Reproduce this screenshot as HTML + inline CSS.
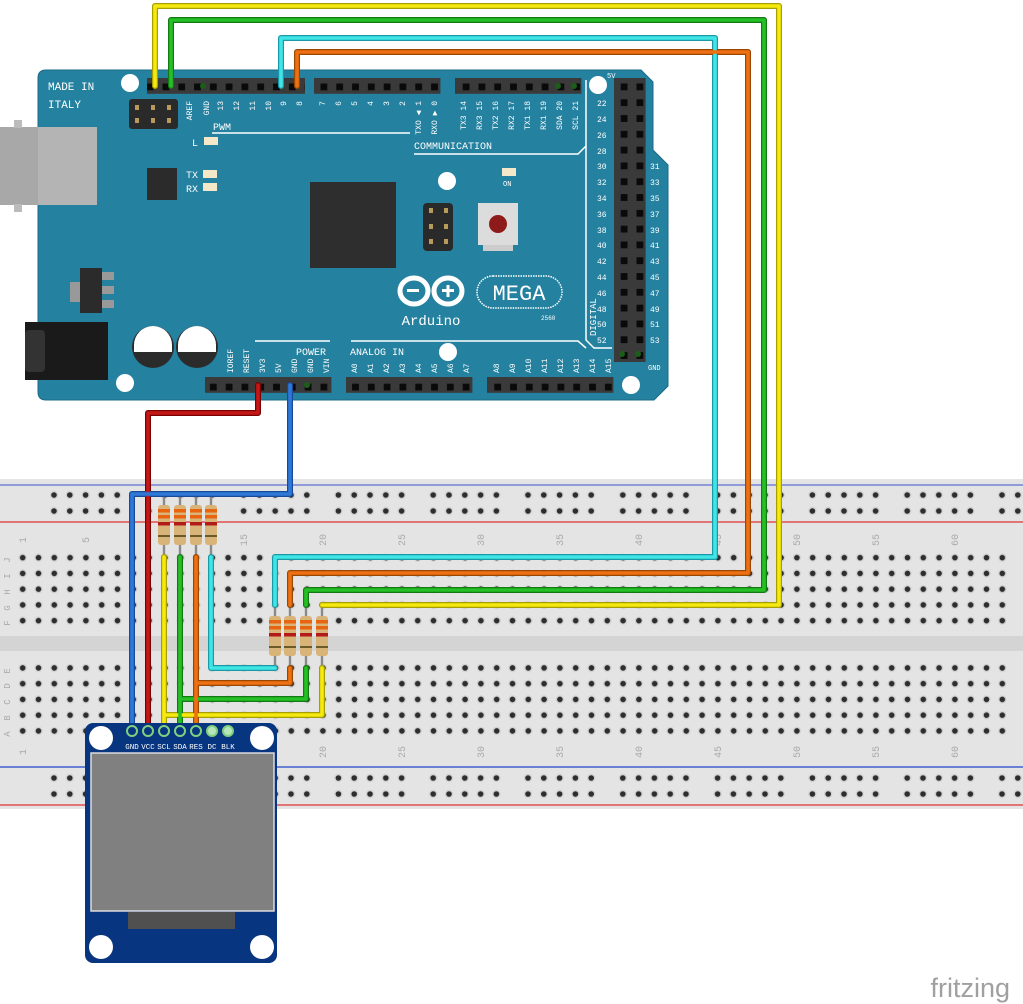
<!DOCTYPE html>
<html><head><meta charset="utf-8"><style>
html,body{margin:0;padding:0;background:#fff;width:1023px;height:1004px;overflow:hidden}
svg{display:block}
text{font-family:"Liberation Mono",monospace}
</style></head><body>
<svg width="1023" height="1004" viewBox="0 0 1023 1004" xmlns="http://www.w3.org/2000/svg">
<defs>
<pattern id="hole" x="14.8" y="549.8" width="15.8" height="15.75" patternUnits="userSpaceOnUse">
<circle cx="7.9" cy="7.9" r="4.2" fill="#d2d2d2"/><circle cx="7.9" cy="7.9" r="2.8" fill="#2e2e2e"/></pattern>
<g id="r5">
<g fill="#d2d2d2"><circle cx="7.9" cy="8" r="4.2"/><circle cx="23.7" cy="8" r="4.2"/><circle cx="39.5" cy="8" r="4.2"/><circle cx="55.3" cy="8" r="4.2"/><circle cx="71.1" cy="8" r="4.2"/></g>
<g fill="#2e2e2e"><circle cx="7.9" cy="8" r="2.8"/><circle cx="23.7" cy="8" r="2.8"/><circle cx="39.5" cy="8" r="2.8"/><circle cx="55.3" cy="8" r="2.8"/><circle cx="71.1" cy="8" r="2.8"/></g>
</g>
<pattern id="rail" x="46.1" y="487" width="94.8" height="16" patternUnits="userSpaceOnUse"><use href="#r5"/></pattern>
<pattern id="rail2" x="46.1" y="770" width="94.8" height="16" patternUnits="userSpaceOnUse"><use href="#r5"/></pattern>
<pattern id="hdr" x="0" y="0" width="15.8" height="15.8" patternUnits="userSpaceOnUse">
<rect width="15.8" height="15.8" fill="#3a3a3a"/><rect x="4.5" y="4.5" width="6.8" height="6.8" fill="#0a0a0a"/></pattern>
<g id="res">
<rect x="-1.2" y="0" width="2.4" height="63" fill="#8a8a8a"/>
<rect x="-6" y="11" width="12" height="40" rx="3" fill="#d9b478"/>
<rect x="-6" y="15" width="12" height="3.5" fill="#e8650f"/>
<rect x="-6" y="21" width="12" height="3.5" fill="#e8650f"/>
<rect x="-6" y="28" width="12" height="3.5" fill="#b31a1a"/>
<rect x="-6" y="41" width="12" height="2" fill="#6b5a2a"/>
</g>
</defs>

<!-- BREADBOARD -->
<rect x="0" y="479" width="1023" height="330" fill="#e4e4e4"/>
<line x1="0" y1="485" x2="1023" y2="485" stroke="#5a6fd0" stroke-width="1.2"/>
<line x1="0" y1="522" x2="1023" y2="522" stroke="#e05050" stroke-width="1.5"/>
<rect x="0" y="636" width="1023" height="15" fill="#d4d4d4"/>
<line x1="0" y1="767" x2="1023" y2="767" stroke="#4060d0" stroke-width="1.5"/>
<line x1="0" y1="805" x2="1023" y2="805" stroke="#e05050" stroke-width="1.5"/>
<rect x="46" y="487" width="977" height="32" fill="url(#rail)"/>
<rect x="46" y="770" width="977" height="32" fill="url(#rail2)"/>
<rect x="14.8" y="549.8" width="995.4" height="78.75" fill="url(#hole)"/>
<rect x="14.8" y="660.1" width="995.4" height="78.75" fill="url(#hole)"/>
<g font-size="9" fill="#aaa" style="font-family:'Liberation Sans',sans-serif" text-anchor="middle">
<text transform="translate(10,560) rotate(-90)">J</text>
<text transform="translate(10,576) rotate(-90)">I</text>
<text transform="translate(10,592) rotate(-90)">H</text>
<text transform="translate(10,608) rotate(-90)">G</text>
<text transform="translate(10,623) rotate(-90)">F</text>
<text transform="translate(10,671) rotate(-90)">E</text>
<text transform="translate(10,686) rotate(-90)">D</text>
<text transform="translate(10,702) rotate(-90)">C</text>
<text transform="translate(10,718) rotate(-90)">B</text>
<text transform="translate(10,734) rotate(-90)">A</text>
</g>
<g font-size="10" fill="#aaa" style="font-family:'Liberation Sans',sans-serif" text-anchor="middle">
<text transform="translate(26,540) rotate(-90)">1</text><text transform="translate(89,540) rotate(-90)">5</text>
<text transform="translate(247,540) rotate(-90)">15</text><text transform="translate(326,540) rotate(-90)">20</text>
<text transform="translate(405,540) rotate(-90)">25</text><text transform="translate(484,540) rotate(-90)">30</text>
<text transform="translate(563,540) rotate(-90)">35</text><text transform="translate(642,540) rotate(-90)">40</text>
<text transform="translate(721,540) rotate(-90)">45</text><text transform="translate(800,540) rotate(-90)">50</text>
<text transform="translate(879,540) rotate(-90)">55</text><text transform="translate(958,540) rotate(-90)">60</text>
<text transform="translate(26,752) rotate(-90)">1</text>
<text transform="translate(326,752) rotate(-90)">20</text>
<text transform="translate(405,752) rotate(-90)">25</text><text transform="translate(484,752) rotate(-90)">30</text>
<text transform="translate(563,752) rotate(-90)">35</text><text transform="translate(642,752) rotate(-90)">40</text>
<text transform="translate(721,752) rotate(-90)">45</text><text transform="translate(800,752) rotate(-90)">50</text>
<text transform="translate(879,752) rotate(-90)">55</text><text transform="translate(958,752) rotate(-90)">60</text>
</g>

<!-- ARDUINO -->
<path d="M46 70 H641 L653 82 V150 L668 165 V386 L654 400 H46 Q38 400 38 392 V78 Q38 70 46 70 Z" fill="#24819f" stroke="#1a6a85" stroke-width="1"/>
<rect x="0" y="127" width="97" height="78" fill="#b4b4b4"/>
<rect x="0" y="127" width="38" height="78" fill="#a8a8a8"/>
<rect x="14" y="120" width="8" height="8" fill="#bbb"/><rect x="14" y="204" width="8" height="8" fill="#bbb"/>
<rect x="25" y="322" width="83" height="58" fill="#1a1a1a"/>
<rect x="25" y="330" width="20" height="42" rx="4" fill="#333"/>
<g fill="#fff"><circle cx="130" cy="83" r="9"/><circle cx="598" cy="85" r="9"/><circle cx="447" cy="181" r="9"/><circle cx="448" cy="352" r="9"/><circle cx="125" cy="383" r="9"/><circle cx="631" cy="385" r="9"/></g>
<rect x="147" y="78" width="158" height="15.8" fill="url(#hdr)"/>
<rect x="314" y="78" width="126.4" height="15.8" fill="url(#hdr)"/>
<rect x="455" y="78" width="126.4" height="15.8" fill="url(#hdr)"/>
<rect x="614" y="78" width="31.6" height="284" fill="url(#hdr)"/>
<rect x="205" y="377" width="126.4" height="15.8" fill="url(#hdr)"/>
<rect x="346" y="377" width="126.4" height="15.8" fill="url(#hdr)"/>
<rect x="487" y="377" width="126.4" height="15.8" fill="url(#hdr)"/>
<g fill="#1a5e1a"><circle cx="203" cy="86" r="3"/><circle cx="558" cy="86" r="3"/><circle cx="574" cy="86" r="3"/><circle cx="622" cy="354" r="3"/><circle cx="638" cy="354" r="3"/><circle cx="307" cy="385" r="3"/></g>
<rect x="129" y="99" width="49" height="30" rx="3" fill="#2a2a2a"/>
<g fill="#b89a5a"><rect x="135" y="105" width="4" height="5"/><rect x="151" y="105" width="4" height="5"/><rect x="167" y="105" width="4" height="5"/><rect x="135" y="118" width="4" height="5"/><rect x="151" y="118" width="4" height="5"/><rect x="167" y="118" width="4" height="5"/></g>
<rect x="147" y="168" width="30" height="32" fill="#2b2b2b"/>
<rect x="310" y="182" width="86" height="86" fill="#2e2e2e"/>
<rect x="423" y="203" width="30" height="48" rx="4" fill="#2a2a2a"/>
<g fill="#b89a5a"><rect x="429" y="208" width="4" height="5"/><rect x="444" y="208" width="4" height="5"/><rect x="429" y="224" width="4" height="5"/><rect x="444" y="224" width="4" height="5"/><rect x="429" y="239" width="4" height="5"/><rect x="444" y="239" width="4" height="5"/></g>
<rect x="478" y="203" width="40" height="42" fill="#dcdcdc"/><rect x="483" y="245" width="30" height="6" fill="#ccc"/>
<circle cx="498" cy="224" r="9" fill="#8e1a1a"/>
<rect x="502" y="168" width="14" height="8" fill="#f4e8c8"/>
<g fill="#f4e8c8"><rect x="204" y="137" width="14" height="8"/><rect x="203" y="170" width="14" height="8"/><rect x="203" y="183" width="14" height="8"/></g>
<rect x="70" y="282" width="12" height="20" fill="#999"/><rect x="80" y="268" width="22" height="45" fill="#2b2b2b"/>
<g fill="#999"><rect x="102" y="272" width="12" height="8"/><rect x="102" y="286" width="12" height="8"/><rect x="102" y="300" width="12" height="8"/></g>
<circle cx="153" cy="347" r="21" fill="#2b2b2b"/><circle cx="197" cy="347" r="21" fill="#2b2b2b"/>
<path d="M134 352 V345 A19 19 0 0 1 172 345 V352 Z" fill="#fff"/>
<path d="M178 352 V345 A19 19 0 0 1 216 345 V352 Z" fill="#fff"/>
<g stroke="#fff" stroke-width="1.5" fill="none">
<path d="M212 133 H410"/><path d="M414 154 H578 L586 146 V80"/><path d="M586 146 V340 L594 348 H612"/><path d="M255 341 H330"/><path d="M351 341 H578 L586 348"/>
</g>
<g fill="none" stroke="#fff" stroke-width="5">
<ellipse cx="414" cy="291" rx="14" ry="13"/><ellipse cx="448" cy="291" rx="14" ry="13"/></g>
<g fill="#fff"><rect x="407" y="289" width="12" height="3"/><rect x="442" y="289" width="12" height="3"/><rect x="446.5" y="285" width="3" height="12"/></g>
<rect x="477" y="276" width="85" height="32" rx="16" fill="none" stroke="#fff" stroke-width="1.5" stroke-dasharray="1.5 1"/>
<text x="519" y="300" font-size="22" fill="#fff" text-anchor="middle">MEGA</text>
<text x="431" y="325" font-size="14" fill="#fff" text-anchor="middle">Arduino</text>
<text x="541" y="320" font-size="6" fill="#fff">2560</text>
<g fill="#fff" font-size="11">
<text x="48" y="90">MADE IN</text><text x="48" y="108">ITALY</text>
<text x="213" y="130" font-size="10">PWM</text><text x="192" y="146" font-size="10">L</text>
<text x="186" y="178" font-size="10">TX</text><text x="186" y="192" font-size="10">RX</text>
<text x="414" y="149" font-size="10">COMMUNICATION</text>
<text x="503" y="186" font-size="7">ON</text>
<text x="296" y="355" font-size="10">POWER</text><text x="350" y="355" font-size="10">ANALOG IN</text>
<text x="648" y="370" font-size="7">GND</text><text x="607" y="78" font-size="7">5V</text>
</g>
<g fill="#fff" font-size="8" text-anchor="end">
<text transform="translate(192,101) rotate(-90)">AREF</text><text transform="translate(209,101) rotate(-90)">GND</text>
<text transform="translate(223,101) rotate(-90)">13</text><text transform="translate(239,101) rotate(-90)">12</text>
<text transform="translate(255,101) rotate(-90)">11</text><text transform="translate(271,101) rotate(-90)">10</text>
<text transform="translate(286,101) rotate(-90)">9</text><text transform="translate(302,101) rotate(-90)">8</text>
<text transform="translate(325,101) rotate(-90)">7</text><text transform="translate(341,101) rotate(-90)">6</text>
<text transform="translate(357,101) rotate(-90)">5</text><text transform="translate(373,101) rotate(-90)">4</text>
<text transform="translate(389,101) rotate(-90)">3</text><text transform="translate(405,101) rotate(-90)">2</text>
<text transform="translate(421,101) rotate(-90)">TXO ◀ 1</text><text transform="translate(437,101) rotate(-90)">RXO ▶ 0</text>
<text transform="translate(466,101) rotate(-90)">TX3 14</text><text transform="translate(482,101) rotate(-90)">RX3 15</text>
<text transform="translate(498,101) rotate(-90)">TX2 16</text><text transform="translate(514,101) rotate(-90)">RX2 17</text>
<text transform="translate(530,101) rotate(-90)">TX1 18</text><text transform="translate(546,101) rotate(-90)">RX1 19</text>
<text transform="translate(562,101) rotate(-90)">SDA 20</text><text transform="translate(578,101) rotate(-90)">SCL 21</text>
</g>
<g fill="#fff" font-size="8">
<text transform="translate(596,336) rotate(-90)" font-size="9">DIGITAL</text>
<text transform="translate(233,373) rotate(-90)">IOREF</text><text transform="translate(249,373) rotate(-90)">RESET</text>
<text transform="translate(265,373) rotate(-90)">3V3</text><text transform="translate(281,373) rotate(-90)">5V</text>
<text transform="translate(297,373) rotate(-90)">GND</text><text transform="translate(313,373) rotate(-90)">GND</text>
<text transform="translate(329,373) rotate(-90)">VIN</text>
<text transform="translate(357,373) rotate(-90)">A0</text><text transform="translate(373,373) rotate(-90)">A1</text>
<text transform="translate(389,373) rotate(-90)">A2</text><text transform="translate(405,373) rotate(-90)">A3</text>
<text transform="translate(421,373) rotate(-90)">A4</text><text transform="translate(437,373) rotate(-90)">A5</text>
<text transform="translate(453,373) rotate(-90)">A6</text><text transform="translate(469,373) rotate(-90)">A7</text>
<text transform="translate(499,373) rotate(-90)">A8</text><text transform="translate(515,373) rotate(-90)">A9</text>
<text transform="translate(531,373) rotate(-90)">A10</text><text transform="translate(547,373) rotate(-90)">A11</text>
<text transform="translate(563,373) rotate(-90)">A12</text><text transform="translate(579,373) rotate(-90)">A13</text>
<text transform="translate(595,373) rotate(-90)">A14</text><text transform="translate(611,373) rotate(-90)">A15</text>
</g>
<g fill="#fff" font-size="8">
<text x="597" y="106">22</text><text x="597" y="122">24</text><text x="597" y="138">26</text><text x="597" y="154">28</text>
<text x="597" y="169">30</text><text x="597" y="185">32</text><text x="597" y="201">34</text><text x="597" y="217">36</text>
<text x="597" y="233">38</text><text x="597" y="248">40</text><text x="597" y="264">42</text><text x="597" y="280">44</text>
<text x="597" y="296">46</text><text x="597" y="312">48</text><text x="597" y="327">50</text><text x="597" y="343">52</text>
<text x="650" y="169">31</text><text x="650" y="185">33</text><text x="650" y="201">35</text><text x="650" y="217">37</text>
<text x="650" y="233">39</text><text x="650" y="248">41</text><text x="650" y="264">43</text><text x="650" y="280">45</text>
<text x="650" y="296">47</text><text x="650" y="312">49</text><text x="650" y="327">51</text><text x="650" y="343">53</text>
</g>

<use href="#res" x="164" y="494"/><use href="#res" x="180" y="494"/><use href="#res" x="196" y="494"/><use href="#res" x="211" y="494"/>
<use href="#res" x="275" y="605"/><use href="#res" x="290" y="605"/><use href="#res" x="306" y="605"/><use href="#res" x="322" y="605"/>

<g fill="none" stroke-linejoin="round" stroke-linecap="round">
<g stroke-width="6">
<path stroke="#a89e00" d="M155 86 V6 H779 V605 H322"/>
<path stroke="#137a13" d="M171 86 V20 H764 V590 H306 V605"/>
<path stroke="#1a9aa8" d="M281 86 V38 H715 V557 H275 V605"/>
<path stroke="#9a4800" d="M297 86 V52 H748 V573 H290 V605"/>
<path stroke="#7a0000" d="M258 385 V413 H148 V731"/>
<path stroke="#174a99" d="M290 385 V494 H132 V731"/>
<path stroke="#a89e00" d="M164 557 V731 M164 715 H322 V668"/>
<path stroke="#137a13" d="M180 557 V731 M180 699 H306 V668"/>
<path stroke="#1a9aa8" d="M211 557 V668 H275"/>
<path stroke="#9a4800" d="M196 557 V731 M196 683 H290 V668"/>
</g>
<g stroke-width="3.6">
<path stroke="#f5ea10" d="M155 86 V6 H779 V605 H322"/>
<path stroke="#25c025" d="M171 86 V20 H764 V590 H306 V605"/>
<path stroke="#40e6e6" d="M281 86 V38 H715 V557 H275 V605"/>
<path stroke="#ee7012" d="M297 86 V52 H748 V573 H290 V605"/>
<path stroke="#c41818" d="M258 385 V413 H148 V731"/>
<path stroke="#2f78d8" d="M290 385 V494 H132 V731"/>
<path stroke="#f5ea10" d="M164 557 V731 M164 715 H322 V668"/>
<path stroke="#25c025" d="M180 557 V731 M180 699 H306 V668"/>
<path stroke="#40e6e6" d="M211 557 V668 H275"/>
<path stroke="#ee7012" d="M196 557 V731 M196 683 H290 V668"/>
</g>
</g>

<rect x="85" y="723" width="192" height="240" rx="8" fill="#07357f"/>
<g fill="#fff"><circle cx="101" cy="738" r="12"/><circle cx="262" cy="738" r="12"/><circle cx="101" cy="947" r="12"/><circle cx="262" cy="947" r="12"/></g>
<g stroke="#7fd07f" stroke-width="2" fill="#b8e6b8"><circle cx="212" cy="731" r="5"/><circle cx="228" cy="731" r="5"/></g>
<g stroke="#7fd07f" stroke-width="2" fill="none"><circle cx="132" cy="731" r="5"/><circle cx="148" cy="731" r="5"/><circle cx="164" cy="731" r="5"/><circle cx="180" cy="731" r="5"/><circle cx="196" cy="731" r="5"/></g>
<g fill="#fff" font-size="7.5" text-anchor="middle">
<text x="132" y="749">GND</text><text x="148" y="749">VCC</text><text x="164" y="749">SCL</text><text x="180" y="749">SDA</text><text x="196" y="749">RES</text><text x="212" y="749">DC</text><text x="228" y="749">BLK</text>
</g>
<rect x="91" y="753" width="183" height="158" fill="#808080" stroke="#dcdcdc" stroke-width="1.5"/>
<rect x="128" y="912" width="107" height="17" fill="#505050"/>

<text x="1010" y="997" style="font-family:'Liberation Sans',sans-serif" font-size="27" fill="#a0a0a0" text-anchor="end">fritzing</text>
</svg>
</body></html>
